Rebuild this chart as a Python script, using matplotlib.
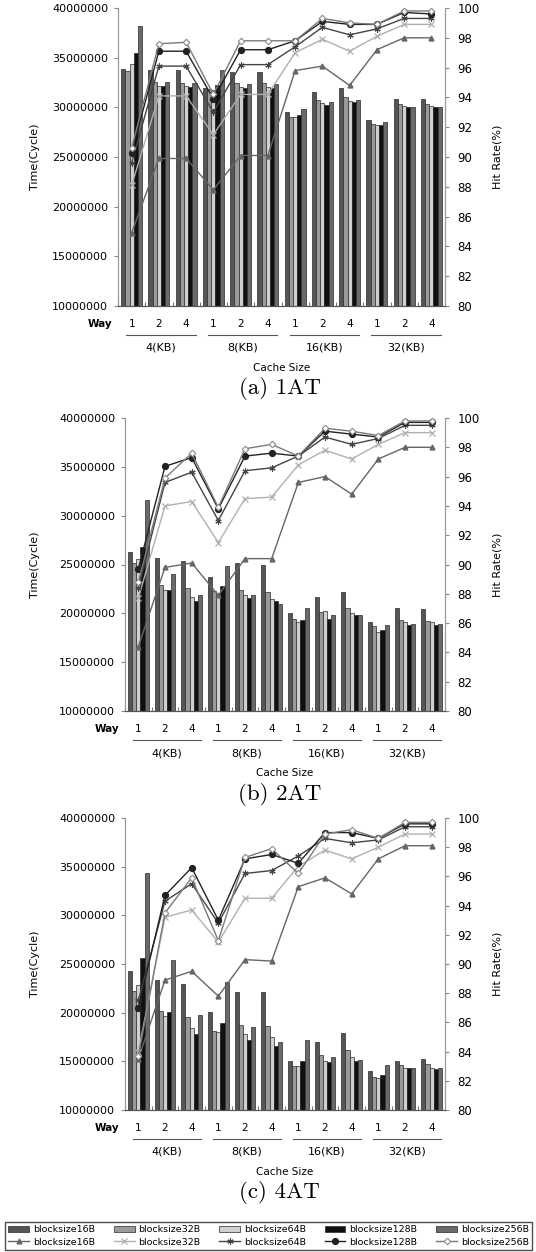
import matplotlib
matplotlib.use('Agg')
import matplotlib.pyplot as plt
import numpy as np
from matplotlib.lines import Line2D
from matplotlib.patches import Patch
from matplotlib.transforms import blended_transform_factory

W, H = 536, 1252

cache_sizes = ['4(KB)', '8(KB)', '16(KB)', '32(KB)']
ways = ['1', '2', '4']
blocks = ['blocksize16B', 'blocksize32B', 'blocksize64B',
          'blocksize128B', 'blocksize256B']
captions = ['(a) 1AT', '(b) 2AT', '(c) 4AT']

# execution time in million cycles, rows = block size, cols = cache size x way
time_1at = [
    [33.9, 33.8, 33.8, 31.9, 33.6, 33.6, 29.5, 31.5, 31.9, 28.7, 30.8, 30.8],
    [33.7, 32.6, 32.5, 31.8, 32.4, 32.4, 29.0, 30.7, 31.0, 28.3, 30.3, 30.3],
    [34.4, 32.1, 32.1, 31.7, 32.0, 32.0, 29.0, 30.4, 30.6, 28.2, 30.1, 30.1],
    [35.5, 32.1, 32.0, 32.2, 31.9, 31.9, 29.2, 30.2, 30.5, 28.2, 30.0, 30.0],
    [38.2, 32.6, 32.4, 33.8, 32.3, 32.3, 29.8, 30.5, 30.7, 28.5, 30.0, 30.0],
]
time_2at = [
    [26.3, 25.7, 25.4, 23.7, 25.2, 25.0, 20.0, 21.7, 22.2, 19.1, 20.5, 20.4],
    [25.2, 22.9, 22.6, 22.3, 22.4, 22.2, 19.4, 20.1, 20.5, 18.7, 19.3, 19.25],
    [25.6, 22.4, 21.7, 22.0, 21.9, 21.5, 19.1, 20.2, 20.0, 18.1, 19.1, 19.1],
    [26.8, 22.4, 21.3, 22.8, 21.6, 21.3, 19.35, 19.45, 19.8, 18.3, 18.8, 18.8],
    [31.6, 24.0, 21.9, 24.8, 21.9, 21.0, 20.5, 19.8, 19.8, 18.8, 18.9, 18.9],
]
time_4at = [
    [24.3, 23.4, 22.9, 20.1, 22.1, 22.1, 15.0, 17.0, 17.9, 14.0, 15.05, 15.2],
    [22.2, 20.2, 19.6, 18.1, 18.7, 18.6, 14.5, 15.6, 16.2, 13.4, 14.65, 14.7],
    [22.8, 19.7, 18.4, 18.0, 17.8, 17.5, 14.5, 15.0, 15.4, 13.3, 14.35, 14.35],
    [25.6, 20.1, 17.8, 18.9, 17.15, 16.6, 15.05, 14.95, 15.0, 13.55, 14.3, 14.25],
    [34.3, 25.4, 19.8, 23.2, 18.5, 17.0, 17.2, 15.4, 15.1, 14.65, 14.35, 14.3],
]

# hit rate (%)
hit_1at = [
    [84.9, 89.9, 89.9, 87.8, 90.1, 90.1, 95.8, 96.1, 94.8, 97.2, 98.0, 98.0],
    [88.1, 94.1, 94.1, 91.5, 94.2, 94.2, 97.0, 97.9, 97.1, 98.1, 98.9, 98.9],
    [89.6, 96.1, 96.1, 93.0, 96.2, 96.2, 97.4, 98.7, 98.2, 98.6, 99.3, 99.3],
    [90.3, 97.1, 97.1, 93.9, 97.2, 97.2, 97.8, 99.1, 98.9, 98.9, 99.7, 99.6],
    [90.6, 97.6, 97.7, 94.2, 97.8, 97.8, 97.8, 99.3, 99.0, 98.9, 99.8, 99.8],
]
hit_2at = [
    [84.4, 89.8, 90.1, 87.9, 90.4, 90.4, 95.6, 96.0, 94.8, 97.2, 98.0, 98.0],
    [87.7, 94.0, 94.3, 91.5, 94.5, 94.6, 96.8, 97.8, 97.2, 98.2, 99.0, 99.0],
    [88.4, 95.6, 96.3, 93.0, 96.4, 96.6, 97.4, 98.7, 98.2, 98.6, 99.5, 99.5],
    [89.7, 96.7, 97.3, 93.8, 97.4, 97.6, 97.4, 99.1, 98.9, 98.7, 99.7, 99.7],
    [88.8, 95.9, 97.6, 93.9, 97.9, 98.2, 97.4, 99.3, 99.1, 98.8, 99.8, 99.8],
]
hit_4at = [
    [83.5, 88.9, 89.5, 87.8, 90.3, 90.2, 95.3, 95.9, 94.8, 97.2, 98.1, 98.1],
    [84.0, 93.2, 93.7, 91.5, 94.5, 94.5, 96.7, 97.8, 97.2, 98.0, 98.9, 98.9],
    [87.5, 94.3, 95.5, 92.8, 96.2, 96.4, 97.4, 98.6, 98.3, 98.5, 99.4, 99.4],
    [87.0, 94.7, 96.6, 93.0, 97.2, 97.5, 96.9, 99.0, 99.0, 98.6, 99.6, 99.6],
    [83.7, 93.5, 95.9, 91.6, 97.3, 97.9, 96.2, 98.9, 99.2, 98.6, 99.7, 99.7],
]

bar_colors = ['#555555', '#9a9a9a', '#d0d0d0', '#101010', '#6a6a6a']
line_styles = [
    dict(color='#666666', marker='^', ms=3.5, mfc='#666666', mec='#666666'),
    dict(color='#b0b0b0', marker='x', ms=4, mfc='#b0b0b0', mec='#b0b0b0', mew=0.9),
    dict(color='#444444', marker=(6, 2, 0), ms=4.5, mfc='#444444', mec='#444444', mew=0.8),
    dict(color='#222222', marker='o', ms=4.2, mfc='#222222', mec='#222222'),
    dict(color='#7a7a7a', marker='D', ms=3.3, mfc='white', mec='#8a8a8a', mew=0.8),
]

plt.rcParams['font.family'] = 'DejaVu Sans'
fig = plt.figure(figsize=(W / 100, H / 100), dpi=100)


def fy(px):
    return 1 - px / H


# axes boxes in pixels: left, top, right, bottom
boxes = [(118, 8, 445, 306), (125, 418, 445, 711), (125, 818, 445, 1110)]
panels = [(time_1at, hit_1at), (time_2at, hit_2at), (time_4at, hit_4at)]

n = len(cache_sizes) * len(ways)
x = np.arange(n)
bw = 0.155

for (l, t, r, b), (times, hits), cap in zip(boxes, panels, captions):
    ax = fig.add_axes([l / W, fy(b), (r - l) / W, (b - t) / H])
    for k in range(len(blocks)):
        vals = np.array(times[k]) * 1e6
        ax.bar(x + (k - 2) * bw, vals, bw, color=bar_colors[k],
               edgecolor='#2a2a2a', linewidth=0.5, zorder=2)
    ax.set_xlim(-0.5, n - 0.5)
    ax.set_ylim(10000000, 40000000)
    ax.set_yticks(np.arange(10000000, 40000001, 5000000))
    ax.set_yticklabels([str(v) for v in range(10000000, 40000001, 5000000)],
                       fontsize=8)
    ax.set_xticks(np.arange(-0.5, n, 1.0))
    ax.set_xticklabels([])
    ax.tick_params(axis='x', direction='in', length=3, color='#777777')
    ax.tick_params(axis='y', length=3, color='#888888', pad=4)
    ax.spines['top'].set_visible(False)
    ax.spines['left'].set_color('#999999')
    ax.spines['right'].set_color('#999999')
    ax.spines['bottom'].set_color('#555555')
    ax.set_ylabel('Time(Cycle)', fontsize=8)
    ax.yaxis.set_label_coords((40 - l) / (r - l), 0.5)

    ax2 = ax.twinx()
    for k in range(len(blocks)):
        ax2.plot(x, hits[k], lw=1.0, **line_styles[k])
    ax2.set_ylim(80, 100)
    ax2.set_yticks(np.arange(80, 101, 2))
    ax2.set_yticklabels([str(v) for v in range(80, 101, 2)], fontsize=8.5)
    ax2.tick_params(axis='y', length=3, color='#888888', pad=6)
    ax2.spines['top'].set_visible(False)
    ax2.spines['left'].set_color('#999999')
    ax2.spines['right'].set_color('#999999')
    ax2.spines['bottom'].set_color('#555555')
    ax2.set_ylabel('Hit Rate(%)', fontsize=8)
    ax2.yaxis.set_label_coords((492 - l) / (r - l), 0.5)

    # category labels under the axes
    tr = blended_transform_factory(ax.transData, fig.transFigure)
    fig.text((l - 6) / W, fy(b + 18), 'Way', ha='right', va='center',
             fontsize=7.5, fontweight='bold')
    for i in range(n):
        ax.text(i, fy(b + 18), ways[i % 3], transform=tr, ha='center',
                va='center', fontsize=7.5)
    for g, cs in enumerate(cache_sizes):
        x0, x1 = 3 * g - 0.2, 3 * g + 2.35
        ax.add_line(Line2D([x0, x1], [fy(b + 29)] * 2, transform=tr,
                           color='#555555', lw=0.8, clip_on=False))
        ax.text((x0 + x1) / 2, fy(b + 42), cs, transform=tr, ha='center',
                va='center', fontsize=8)
    fig.text((l + r) / 2 / W, fy(b + 62), 'Cache Size', ha='center',
             va='center', fontsize=7.5)
    fig.text(0.522, fy(b + 83), cap, ha='center', va='center',
             fontsize=16.5, family='cmr10')

# legend: bars on the first row, lines on the second
handles = []
for k in range(len(blocks)):
    handles.append(Patch(facecolor=bar_colors[k], edgecolor='#2a2a2a',
                         linewidth=0.5, label=blocks[k]))
    handles.append(Line2D([], [], lw=1.0, label=blocks[k], **line_styles[k]))

fig.legend(handles=handles, ncol=5, loc='lower left',
           bbox_to_anchor=(5 / W, fy(1250), 527 / W, 38 / H), mode='expand',
           fontsize=6.8, frameon=True, fancybox=False, edgecolor='#222222',
           handlelength=2.2, handletextpad=0.4, columnspacing=0.5,
           labelspacing=0.35, borderpad=0.35, borderaxespad=0)

fig.savefig('out.png', dpi=100)
